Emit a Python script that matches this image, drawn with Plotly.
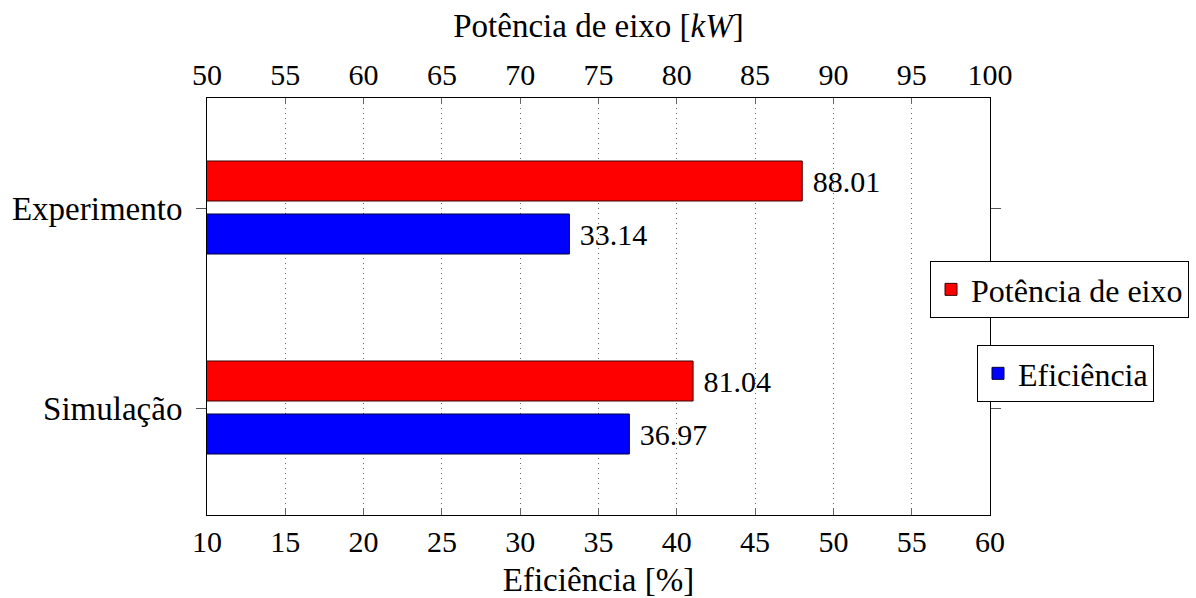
import plotly.graph_objects as go

# Dados
categorias = ["Experimento", "Simulação"]
potencia_eixo = [88.01, 81.04]   # kW
eficiencia = [33.14, 36.97]      # %

ordem_y = ["Simulação", "Experimento"]
ticks_ef = list(range(10, 61, 5))
ticks_pot = list(range(50, 101, 5))

FONTE = "'Liberation Serif', 'Times New Roman', 'DejaVu Serif', serif"
TAM_NUM = 30   # números (ticks e rótulos das barras)
TAM_TXT = 33   # palavras (títulos, categorias)
TAM_LEG = 32   # legenda

fig = go.Figure()

fig.add_trace(go.Bar(
    y=categorias, x=potencia_eixo, orientation="h",
    name="Potência de eixo", xaxis="x2", yaxis="y",
    width=0.2, offset=0.035,
    marker=dict(color="#ff0000", line=dict(color="#3a0000", width=1)),
    texttemplate=" %{x:.2f}", textposition="outside", constraintext="none",
    textfont=dict(family=FONTE, size=TAM_NUM, color="black"),
    cliponaxis=False, legend="legend",
))

fig.add_trace(go.Bar(
    y=categorias, x=eficiencia, orientation="h",
    name="Eficiência", xaxis="x", yaxis="y",
    width=0.2, offset=-0.23,
    marker=dict(color="#0000ff", line=dict(color="#00003a", width=1)),
    texttemplate=" %{x:.2f}", textposition="outside", constraintext="none",
    textfont=dict(family=FONTE, size=TAM_NUM, color="black"),
    cliponaxis=False, legend="legend2",
))

eixo_x_comum = dict(
    dtick=5, tick0=0,
    showline=True, linecolor="black", linewidth=1,
    ticks="inside", ticklen=6, tickcolor="#666666",
    tickfont=dict(family=FONTE, size=TAM_NUM, color="black"),
    zeroline=False,
)

fig.update_layout(
    width=1196, height=598,
    margin=dict(l=207, r=206, t=98, b=83, autoexpand=False),
    paper_bgcolor="white", plot_bgcolor="white",
    font=dict(family=FONTE, size=TAM_TXT, color="black"),
    barmode="overlay",
    xaxis=dict(
        range=[10, 60], tickvals=ticks_ef,
        showgrid=True, gridcolor="#666666", gridwidth=1, griddash="1px,4px",
        title=dict(text="Eficiência [%]", font=dict(family=FONTE, size=TAM_TXT), standoff=12),
        **eixo_x_comum,
    ),
    xaxis2=dict(
        range=[50, 100], tickvals=ticks_pot, overlaying="x", side="top",
        anchor="y", showgrid=False,
        title=dict(text="Potência de eixo [<i>kW</i>]", font=dict(family=FONTE, size=TAM_TXT), standoff=10),
        **eixo_x_comum,
    ),
    yaxis=dict(
        type="category", categoryorder="array", categoryarray=ordem_y,
        range=[-0.535, 1.55],
        showline=True, linecolor="black", linewidth=1, mirror="ticks",
        ticks="outside", ticklen=10, tickcolor="#555555",
        tickfont=dict(family=FONTE, size=TAM_TXT, color="black"),
        ticklabelstandoff=7,
        showgrid=False, zeroline=False,
    ),
    legend=dict(
        x=0.9234, y=0.609, xanchor="left", yanchor="top",
        bgcolor="white", bordercolor="black", borderwidth=1,
        font=dict(family=FONTE, size=TAM_LEG, color="black"),
        tracegroupgap=0, itemwidth=30,
    ),
    legend2=dict(
        x=0.9834, y=0.4076, xanchor="left", yanchor="top",
        bgcolor="white", bordercolor="black", borderwidth=1,
        font=dict(family=FONTE, size=TAM_LEG, color="black"),
        tracegroupgap=0, itemwidth=30,
    ),
    showlegend=True,
)

fig.write_html("out.html")
